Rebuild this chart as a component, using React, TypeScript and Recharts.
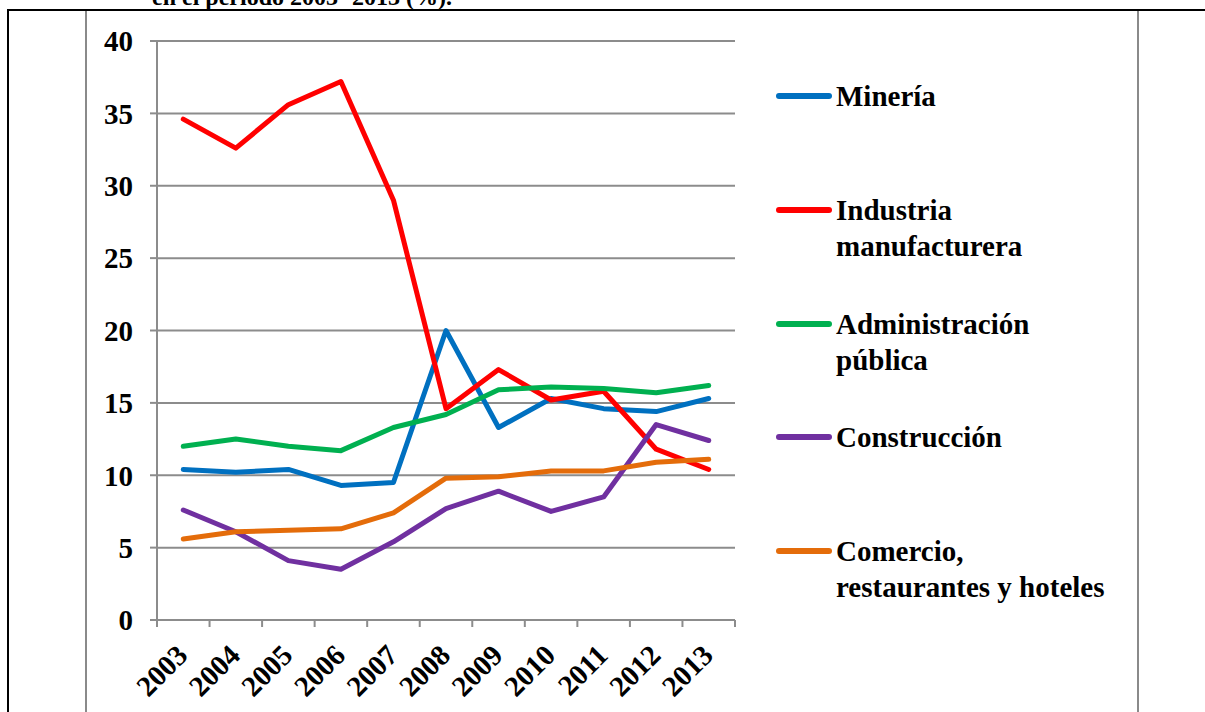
import React from 'react';
import { LineChart, Line, XAxis, YAxis, CartesianGrid } from 'recharts';

// Participación por sector, 2003-2013 (%)
const years = ['2003', '2004', '2005', '2006', '2007', '2008', '2009', '2010', '2011', '2012', '2013'];
const mineria = [10.4, 10.2, 10.4, 9.3, 9.5, 20.0, 13.3, 15.3, 14.6, 14.4, 15.3];
const industria = [34.6, 32.6, 35.6, 37.2, 29.0, 14.6, 17.3, 15.2, 15.8, 11.8, 10.4];
const administracion = [12.0, 12.5, 12.0, 11.7, 13.3, 14.2, 15.9, 16.1, 16.0, 15.7, 16.2];
const construccion = [7.6, 6.1, 4.1, 3.5, 5.4, 7.7, 8.9, 7.5, 8.5, 13.5, 12.4];
const comercio = [5.6, 6.1, 6.2, 6.3, 7.4, 9.8, 9.9, 10.3, 10.3, 10.9, 11.1];
const yTicks = [0, 5, 10, 15, 20, 25, 30, 35, 40];

const series = [
  { key: 'mineria', name: 'Minería', color: '#0070C0', values: mineria },
  { key: 'industria', name: 'Industria\nmanufacturera', color: '#FF0000', values: industria },
  { key: 'administracion', name: 'Administración\npública', color: '#00B050', values: administracion },
  { key: 'construccion', name: 'Construcción', color: '#7030A0', values: construccion },
  { key: 'comercio', name: 'Comercio,\nrestaurantes y hoteles', color: '#E46C0A', values: comercio },
];

const data = years.map((year, i) => {
  const row: Record<string, string | number> = { year };
  series.forEach((s) => {
    row[s.key] = s.values[i];
  });
  return row;
});

const W = 1205;
const H = 712;
const FONT = '"Liberation Serif", "Times New Roman", serif';
const GRID = '#8c8c8c';
const margin = { top: 41, right: 470, bottom: 0, left: 97 };
const Y_AXIS_W = 60;
const PLOT_W = W - margin.left - margin.right - Y_AXIS_W;
const STEP = PLOT_W / years.length;

const YearTick = (props: any) => {
  const { x, y, payload, index } = props;
  const ax = x + 6;
  const ay = y + 37;
  return (
    <g>
      <line x1={x - STEP / 2} y1={y} x2={x - STEP / 2} y2={y + 7} stroke={GRID} strokeWidth={2} />
      {index === years.length - 1 && (
        <line x1={x + STEP / 2} y1={y} x2={x + STEP / 2} y2={y + 7} stroke={GRID} strokeWidth={2} />
      )}
      <text
        x={ax}
        y={ay}
        textAnchor="end"
        transform={`rotate(-45 ${ax} ${ay})`}
        fontFamily={FONT}
        fontWeight="bold"
        fontSize={29}
        fill="#000"
      >
        {payload.value}
      </text>
    </g>
  );
};

const LegendBox = () => (
  <div
    style={{
      position: 'absolute',
      left: 776,
      top: 78,
      width: 360,
      fontFamily: FONT,
      fontWeight: 'bold',
      fontSize: 29,
      lineHeight: '36px',
      color: '#000',
    }}
  >
    {series.map((s) => (
      <div key={s.key} style={{ display: 'flex', alignItems: 'flex-start', height: 113.75 }}>
        <div style={{ width: 56, height: 6, borderRadius: 3, background: s.color, marginTop: 15, marginRight: 4, flexShrink: 0 }} />
        <div style={{ whiteSpace: 'pre-line' }}>{s.name}</div>
      </div>
    ))}
  </div>
);

export default function App() {
  return (
    <div style={{ position: 'fixed', left: 0, top: 0, width: W, height: H, background: '#fff', overflow: 'hidden' }}>
      {/* table borders of the source document */}
      <div style={{ position: 'absolute', left: 7, top: 9, width: W - 7, height: 2, background: '#000' }} />
      <div style={{ position: 'absolute', left: 7, top: 9, width: 2, height: H, background: '#000' }} />
      <div style={{ position: 'absolute', left: 85, top: 11, width: 2, height: H, background: '#8a8a8a' }} />
      <div style={{ position: 'absolute', left: 1137, top: 11, width: 2, height: H, background: '#8a8a8a' }} />
      <svg style={{ position: 'absolute', left: 0, top: 0 }} width={W} height={12}>
        <text x={152} y={5} fontFamily={FONT} fontWeight="bold" fontSize={24} fill="#000">
          en el período 2003- 2013 (%).
        </text>
      </svg>
      <div style={{ position: 'absolute', left: 0, top: 0 }}>
        <LineChart width={W} height={H} data={data} margin={margin}>
          <CartesianGrid vertical={false} stroke={GRID} strokeWidth={2} />
          <XAxis
            dataKey="year"
            scale="band"
            interval={0}
            height={92}
            tickLine={false}
            tickSize={0}
            tickMargin={0}
            axisLine={{ stroke: GRID, strokeWidth: 2 }}
            tick={<YearTick />}
          />
          <YAxis
            width={Y_AXIS_W}
            domain={[0, 40]}
            ticks={yTicks}
            interval={0}
            tickSize={7}
            tickMargin={17}
            axisLine={{ stroke: GRID, strokeWidth: 2 }}
            tickLine={{ stroke: GRID, strokeWidth: 2 }}
            tick={{ fill: '#000', fontFamily: FONT, fontWeight: 'bold', fontSize: 29 }}
          />
          {series.map((s) => (
            <Line
              key={s.key}
              type="linear"
              dataKey={s.key}
              name={s.name}
              stroke={s.color}
              strokeWidth={5}
              strokeLinecap="round"
              strokeLinejoin="round"
              dot={false}
              activeDot={false}
              isAnimationActive={false}
            />
          ))}
        </LineChart>
      </div>
      <LegendBox />
    </div>
  );
}
